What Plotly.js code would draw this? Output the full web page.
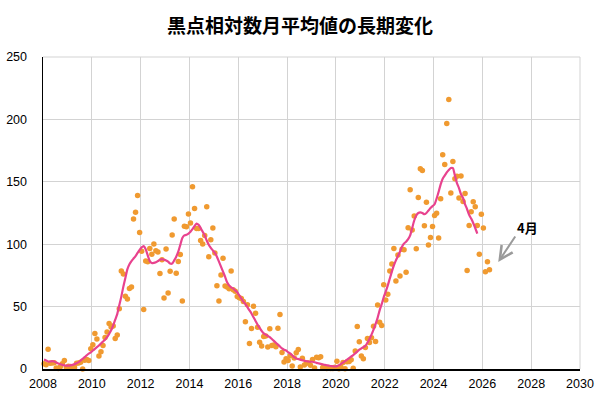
<!DOCTYPE html>
<html>
<head>
<meta charset="utf-8">
<script src="https://cdn.plot.ly/plotly-3.0.1.min.js"></script>
<style>html,body{margin:0;padding:0;background:#fff;}#chart{width:600px;height:400px;}</style>
</head>
<body>
<div id="chart"></div>
<script>
// Monthly mean sunspot number, starting January 2008 (one value per month)
const startYear = 2008;
const monthlyMean = [
  4.2, 3.4, 15.9, 4.6, 4.8, 5.0, 0.8, 0.5, 1.8, 4.3, 6.8, 1.3,            // 2008
  2.3, 2.0, 1.2, 1.3, 4.6, 4.8, 5.4, 0.0, 7.1, 7.7, 6.9, 16.3,            // 2009
  19.5, 28.5, 24.0, 10.4, 13.9, 18.8, 25.2, 29.6, 36.4, 33.6, 34.4, 24.5, // 2010
  27.3, 48.3, 78.6, 76.1, 58.2, 56.1, 64.5, 65.8, 120.1, 125.7, 139.1, 109.3, // 2011
  94.4, 47.6, 86.6, 85.9, 96.5, 92.0, 100.1, 94.8, 93.7, 76.5, 87.6, 56.8, // 2012
  96.1, 60.9, 78.3, 107.3, 120.2, 76.7, 86.2, 91.8, 54.5, 114.4, 113.9, 124.2, // 2013
  117.0, 146.1, 128.7, 112.5, 112.5, 102.9, 100.2, 106.9, 130.0, 90.0, 103.6, 112.9, // 2014
  93.0, 66.7, 54.5, 75.3, 88.8, 66.5, 65.8, 64.4, 78.6, 63.6, 62.2, 58.0, // 2015
  57.0, 56.4, 54.1, 37.9, 51.5, 20.5, 32.4, 50.2, 44.6, 33.4, 21.4, 18.5, // 2016
  26.1, 26.4, 17.7, 32.3, 18.9, 19.2, 17.8, 32.6, 43.7, 13.2, 5.7, 8.2,   // 2017
  6.8, 10.7, 2.5, 8.9, 13.1, 15.6, 1.6, 8.7, 3.3, 4.9, 4.9, 3.1,          // 2018
  7.7, 0.8, 9.4, 9.1, 9.9, 1.2, 0.9, 0.5, 1.1, 0.4, 0.5, 1.5,             // 2019
  6.2, 0.2, 1.5, 5.2, 0.2, 5.8, 6.1, 7.5, 0.6, 14.4, 34.0, 21.8,          // 2020
  10.4, 8.2, 17.2, 24.5, 21.2, 25.0, 34.2, 22.0, 51.3, 37.4, 34.8, 67.5,  // 2021
  55.3, 59.9, 78.5, 84.1, 96.5, 70.6, 91.4, 74.6, 96.0, 95.5, 77.6, 113.1, // 2022
  143.6, 111.4, 122.6, 96.4, 137.4, 160.5, 159.1, 114.8, 133.6, 99.4, 105.4, 114.2, // 2023
  123.0, 124.7, 104.9, 136.5, 171.7, 163.8, 196.7, 216.0, 141.1, 166.3, 152.5, 154.5, // 2024
  137.0, 154.6, 134.2, 140.6, 79.0, 115.0, 126.0, 134.0, 130.0, 115.0, 92.0, 124.0, // 2025
  113.0, 78.0, 86.0, 79.5                                                 // 2026 Jan-Apr
];
// 13-month smoothed values, starting January 2008
const smoothed = [
  7.5, 6.8, 6.0, 6.0, 6.3, 6.0, 5.2, 4.4, 3.8, 3.3, 2.9, 2.7,             // 2008
  2.7, 2.9, 3.3, 3.9, 4.6, 5.5, 6.8, 8.2, 9.5, 11.0, 12.3, 13.3,          // 2009
  14.8, 16.2, 17.5, 18.8, 20.5, 22.0, 23.5, 25.5, 28.0, 31.0, 35.0, 39.5, // 2010
  44.0, 51.0, 58.0, 66.0, 73.0, 80.0, 84.0, 86.5, 88.5, 90.5, 93.0, 95.5, // 2011
  97.5, 98.5, 96.0, 91.0, 86.5, 85.0, 85.0, 85.5, 86.5, 87.5, 88.0, 87.5, // 2012
  87.0, 86.0, 84.5, 84.5, 87.0, 90.0, 94.0, 99.5, 105.0, 107.0, 107.5, 108.5, // 2013
  110.0, 112.0, 114.5, 116.5, 115.5, 113.0, 110.0, 107.0, 103.0, 99.5, 97.0, 95.0, // 2014
  93.0, 90.0, 86.0, 82.0, 78.0, 74.0, 69.5, 67.0, 65.5, 64.5, 63.0, 61.5, // 2015
  59.0, 56.5, 54.0, 52.0, 49.5, 47.0, 44.5, 41.5, 38.5, 35.5, 33.0, 30.5, // 2016
  28.5, 27.5, 26.5, 25.5, 24.0, 22.5, 21.0, 19.5, 18.0, 16.5, 15.5, 14.8, // 2017
  13.5, 12.5, 11.0, 9.5, 8.5, 8.0, 7.5, 7.0, 6.6, 6.2, 6.0, 5.8,          // 2018
  5.8, 5.4, 4.9, 4.5, 4.1, 3.7, 3.3, 3.0, 2.7, 2.4, 2.2, 2.0,             // 2019
  2.3, 3.0, 4.0, 5.2, 6.3, 7.5, 8.8, 10.0, 11.2, 12.5, 14.0, 15.5,        // 2020
  16.5, 17.5, 18.5, 21.0, 24.0, 27.5, 31.5, 36.0, 41.0, 47.0, 52.0, 57.5, // 2021
  62.0, 67.0, 72.5, 78.0, 83.0, 87.0, 90.5, 94.0, 98.0, 100.5, 102.0, 104.0, // 2022
  107.0, 113.0, 119.0, 123.0, 125.0, 125.5, 125.0, 124.0, 125.0, 127.0, 129.0, 130.5, // 2023
  132.0, 136.5, 142.0, 148.0, 152.5, 155.0, 157.5, 159.5, 161.0, 161.0, 155.0, 149.0, // 2024
  145.0, 140.0, 137.0, 132.0, 128.0, 123.5, 120.5, 117.0, 113.0, 108.5    // 2025 Jan-Oct
];
const xTicks = [2008, 2010, 2012, 2014, 2016, 2018, 2020, 2022, 2024, 2026, 2028, 2030];
const yTicks = [0, 50, 100, 150, 200, 250];
const titleText = '黒点相対数月平均値の長期変化';
const noteText = '4月';

const monthX = arr => arr.map((_, i) => startYear + (i + 0.5) / 12);
const lastIdx = monthlyMean.length - 1;

const traces = [
  {
    x: monthX(monthlyMean), y: monthlyMean, type: 'scatter', mode: 'markers',
    marker: {color: '#f09a30', size: 5.5, line: {width: 0}},
    cliponaxis: false, hoverinfo: 'x+y'
  },
  {
    x: monthX(smoothed), y: smoothed, type: 'scatter', mode: 'lines',
    line: {color: '#e8428e', width: 2.2, shape: 'spline', smoothing: 0.6},
    hoverinfo: 'x+y'
  }
];
const lastX = monthX(monthlyMean)[lastIdx];

const layout = {
  width: 600, height: 400,
  margin: {l: 43, r: 20, t: 57, b: 31},
  paper_bgcolor: '#ffffff', plot_bgcolor: '#ffffff',
  showlegend: false,
  font: {family: 'Liberation Sans, Arial, sans-serif', color: '#000', size: 12},
  title: {text: '<b>' + titleText + '</b>', x: 0.5, xanchor: 'center', y: 0.935, yanchor: 'middle',
          font: {family: 'Noto Sans CJK JP, sans-serif', size: 19, color: '#000'}},
  xaxis: {
    range: [2008, 2030], tickvals: xTicks, ticktext: xTicks.map(String),
    showgrid: true, gridcolor: '#d3d3d3', gridwidth: 1,
    showline: true, linecolor: '#000', linewidth: 1.5, zeroline: false,
    ticks: '', ticklabelstandoff: 2,
    tickfont: {family: 'Liberation Sans, Arial, sans-serif', size: 12.5, color: '#000'}
  },
  yaxis: {
    range: [0, 250], tickvals: yTicks, ticktext: yTicks.map(String),
    showgrid: true, gridcolor: '#d3d3d3', gridwidth: 1,
    showline: true, linecolor: '#000', linewidth: 1.5, zeroline: false,
    ticks: '', ticklabelstandoff: 12,
    tickfont: {family: 'Liberation Sans, Arial, sans-serif', size: 12.5, color: '#000'}
  },
  shapes: [
    {type: 'line', xref: 'paper', yref: 'paper', x0: 0, x1: 1, y0: 1, y1: 1, line: {color: '#d3d3d3', width: 1}},
    {type: 'line', xref: 'paper', yref: 'paper', x0: 1, x1: 1, y0: 0, y1: 1, line: {color: '#d3d3d3', width: 1}}
  ],
  annotations: [
    {x: 2026.65, y: 85.7, xref: 'x', yref: 'y', text: '', showarrow: true,
     ax: 18, ay: -27, arrowcolor: '#9a9a9a', arrowwidth: 2, arrowhead: 5, arrowsize: 1.3},
    {x: 2027.84, y: 113, xref: 'x', yref: 'y', text: '<b>' + noteText + '</b>', showarrow: false,
     font: {family: 'Noto Sans CJK JP, sans-serif', size: 13, color: '#000'}}
  ]
};

Plotly.newPlot('chart', traces, layout, {displayModeBar: false, staticPlot: true});
</script>
</body>
</html>
